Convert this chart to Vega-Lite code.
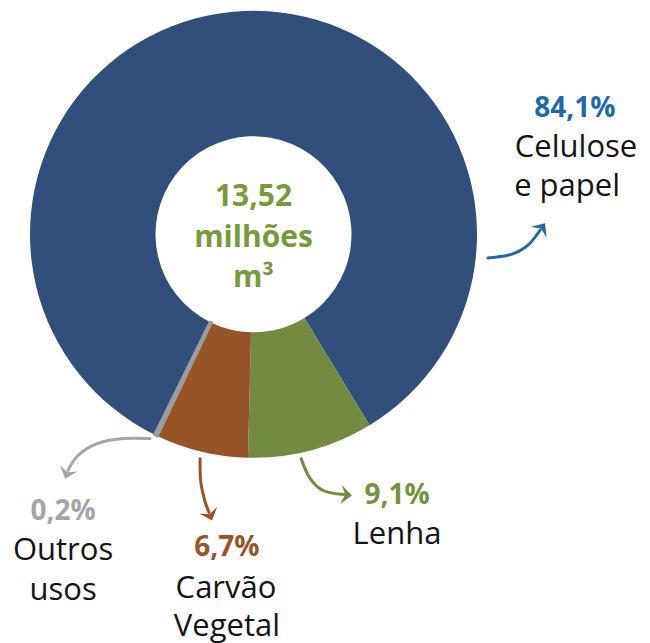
{
  "$schema": "https://vega.github.io/schema/vega-lite/v6.json",
  "width": 650,
  "height": 643,
  "autosize": {"type": "fit", "contains": "padding"},
  "padding": 0,
  "background": "white",
  "config": {"view": {"stroke": null}},
  "datasets": {
    "fatias": [
      {"categoria": "Celulose e papel", "pct": 84.1},
      {"categoria": "Lenha", "pct": 9.1},
      {"categoria": "Carvão Vegetal", "pct": 6.7},
      {"categoria": "Outros usos", "pct": 0.2}
    ],
    "setas": [
      {"categoria": "Celulose e papel", "i": 1, "u": 1.049, "v": 0.107},
      {"categoria": "Celulose e papel", "i": 2, "u": 1.157, "v": 0.089},
      {"categoria": "Celulose e papel", "i": 3, "u": 1.228, "v": 0.049},
      {"categoria": "Celulose e papel", "i": 4, "u": 1.282, "v": -0.018},
      {"categoria": "Lenha", "i": 1, "u": 0.213, "v": 1.007},
      {"categoria": "Lenha", "i": 2, "u": 0.253, "v": 1.096},
      {"categoria": "Lenha", "i": 3, "u": 0.311, "v": 1.150},
      {"categoria": "Lenha", "i": 4, "u": 0.405, "v": 1.168},
      {"categoria": "Carvão Vegetal", "i": 1, "u": -0.239, "v": 1.007},
      {"categoria": "Carvão Vegetal", "i": 2, "u": -0.236, "v": 1.110},
      {"categoria": "Carvão Vegetal", "i": 3, "u": -0.217, "v": 1.199},
      {"categoria": "Carvão Vegetal", "i": 4, "u": -0.199, "v": 1.248},
      {"categoria": "Outros usos", "i": 1, "u": -0.463, "v": 0.917},
      {"categoria": "Outros usos", "i": 2, "u": -0.584, "v": 0.917},
      {"categoria": "Outros usos", "i": 3, "u": -0.700, "v": 0.940},
      {"categoria": "Outros usos", "i": 4, "u": -0.785, "v": 0.993},
      {"categoria": "Outros usos", "i": 5, "u": -0.830, "v": 1.060}
    ],
    "pontas": [
      {"categoria": "Celulose e papel", "u": 1.284, "v": -0.020, "angulo": 35},
      {"categoria": "Lenha", "u": 0.405, "v": 1.169, "angulo": 95},
      {"categoria": "Carvão Vegetal", "u": -0.198, "v": 1.251, "angulo": 160},
      {"categoria": "Outros usos", "u": -0.831, "v": 1.063, "angulo": 200}
    ],
    "percentuais": [
      {"categoria": "Celulose e papel", "texto": "84,1%", "u": 1.438, "v": -0.528},
      {"categoria": "Lenha", "texto": "9,1%", "u": 0.642, "v": 1.2125},
      {"categoria": "Carvão Vegetal", "texto": "6,7%", "u": -0.119, "v": 1.445},
      {"categoria": "Outros usos", "texto": "0,2%", "u": -0.852, "v": 1.284}
    ],
    "nomes": [
      {"texto": "Celulose", "u": 1.443, "v": -0.349},
      {"texto": "e papel", "u": 1.403, "v": -0.170},
      {"texto": "Lenha", "u": 0.642, "v": 1.392},
      {"texto": "Carvão", "u": -0.123, "v": 1.633},
      {"texto": "Vegetal", "u": -0.119, "v": 1.805},
      {"texto": "Outros", "u": -0.852, "v": 1.463},
      {"texto": "usos", "u": -0.852, "v": 1.642}
    ],
    "centro": [
      {"texto": "13,52", "u": 0, "v": -0.125},
      {"texto": "milhões", "u": 0, "v": 0.058},
      {"texto": "m³", "u": 0, "v": 0.237}
    ]
  },
  "resolve": {"scale": {"color": "independent"}},
  "layer": [
    {
      "data": {"name": "fatias"},
      "mark": {"type": "arc", "innerRadius": 98, "outerRadius": 223.5},
      "encoding": {
        "x": {"datum": 0, "type": "quantitative", "scale": {"domain": [-1.1342, 1.774], "nice": false, "zero": false}, "axis": null},
        "y": {"datum": 0, "type": "quantitative", "scale": {"domain": [-1.0515, 1.8255], "nice": false, "zero": false, "reverse": true}, "axis": null},
        "theta": {"field": "pct", "type": "quantitative", "stack": true, "scale": {"range": [-2.6836, 3.5996]}},
        "order": {"field": "pct", "sort": "descending"},
        "color": {
          "field": "categoria", "type": "nominal", "legend": null,
          "scale": {"domain": ["Celulose e papel", "Lenha", "Carvão Vegetal", "Outros usos"], "range": ["#324f7c", "#738a40", "#965427", "#9b9d9f"]}
        },
        "stroke": {
          "field": "categoria", "type": "nominal", "legend": null,
          "scale": {"domain": ["Celulose e papel", "Lenha", "Carvão Vegetal", "Outros usos"], "range": ["#324f7c", "#738a40", "#965427", "#9b9d9f"]}
        },
        "strokeWidth": {"condition": {"test": "datum.categoria === 'Outros usos'", "value": 3}, "value": 0}
      }
    },
    {
      "data": {"name": "setas"},
      "mark": {"type": "line", "interpolate": "cardinal", "strokeWidth": 3, "strokeCap": "round"},
      "encoding": {
        "x": {"field": "u", "type": "quantitative", "scale": {"domain": [-1.1342, 1.774], "nice": false, "zero": false}, "axis": null},
        "y": {"field": "v", "type": "quantitative", "scale": {"domain": [-1.0515, 1.8255], "nice": false, "zero": false, "reverse": true}, "axis": null},
        "order": {"field": "i", "type": "quantitative"},
        "color": {
          "field": "categoria", "type": "nominal", "legend": null,
          "scale": {"domain": ["Celulose e papel", "Lenha", "Carvão Vegetal", "Outros usos"], "range": ["#1f69a6", "#738a40", "#965427", "#a3a5a7"]}
        }
      }
    },
    {
      "data": {"name": "pontas"},
      "mark": {"type": "point", "filled": true, "opacity": 1, "strokeWidth": 0, "size": 400, "shape": "M0,-0.8L0.95,0.3L0,-0.12L-0.95,0.3Z"},
      "encoding": {
        "x": {"field": "u", "type": "quantitative", "scale": {"domain": [-1.1342, 1.774], "nice": false, "zero": false}, "axis": null},
        "y": {"field": "v", "type": "quantitative", "scale": {"domain": [-1.0515, 1.8255], "nice": false, "zero": false, "reverse": true}, "axis": null},
        "angle": {"field": "angulo", "type": "quantitative", "scale": null},
        "color": {
          "field": "categoria", "type": "nominal", "legend": null,
          "scale": {"domain": ["Celulose e papel", "Lenha", "Carvão Vegetal", "Outros usos"], "range": ["#1f69a6", "#738a40", "#965427", "#a3a5a7"]}
        }
      }
    },
    {
      "data": {"name": "percentuais"},
      "mark": {"type": "text", "align": "center", "baseline": "alphabetic", "font": "Open Sans", "fontWeight": "bold", "fontSize": 28},
      "encoding": {
        "x": {"field": "u", "type": "quantitative", "scale": {"domain": [-1.1342, 1.774], "nice": false, "zero": false}, "axis": null},
        "y": {"field": "v", "type": "quantitative", "scale": {"domain": [-1.0515, 1.8255], "nice": false, "zero": false, "reverse": true}, "axis": null},
        "text": {"field": "texto", "type": "nominal"},
        "color": {
          "field": "categoria", "type": "nominal", "legend": null,
          "scale": {"domain": ["Celulose e papel", "Lenha", "Carvão Vegetal", "Outros usos"], "range": ["#1f69a6", "#76923d", "#98552a", "#a3a5a7"]}
        }
      }
    },
    {
      "data": {"name": "nomes"},
      "mark": {"type": "text", "align": "center", "baseline": "alphabetic", "font": "Open Sans", "fontSize": 31, "color": "#141414"},
      "encoding": {
        "x": {"field": "u", "type": "quantitative", "scale": {"domain": [-1.1342, 1.774], "nice": false, "zero": false}, "axis": null},
        "y": {"field": "v", "type": "quantitative", "scale": {"domain": [-1.0515, 1.8255], "nice": false, "zero": false, "reverse": true}, "axis": null},
        "text": {"field": "texto", "type": "nominal"}
      }
    },
    {
      "data": {"name": "centro"},
      "mark": {"type": "text", "align": "center", "baseline": "alphabetic", "font": "Open Sans", "fontWeight": "bold", "fontSize": 30, "color": "#789a3d"},
      "encoding": {
        "x": {"field": "u", "type": "quantitative", "scale": {"domain": [-1.1342, 1.774], "nice": false, "zero": false}, "axis": null},
        "y": {"field": "v", "type": "quantitative", "scale": {"domain": [-1.0515, 1.8255], "nice": false, "zero": false, "reverse": true}, "axis": null},
        "text": {"field": "texto", "type": "nominal"}
      }
    }
  ]
}
